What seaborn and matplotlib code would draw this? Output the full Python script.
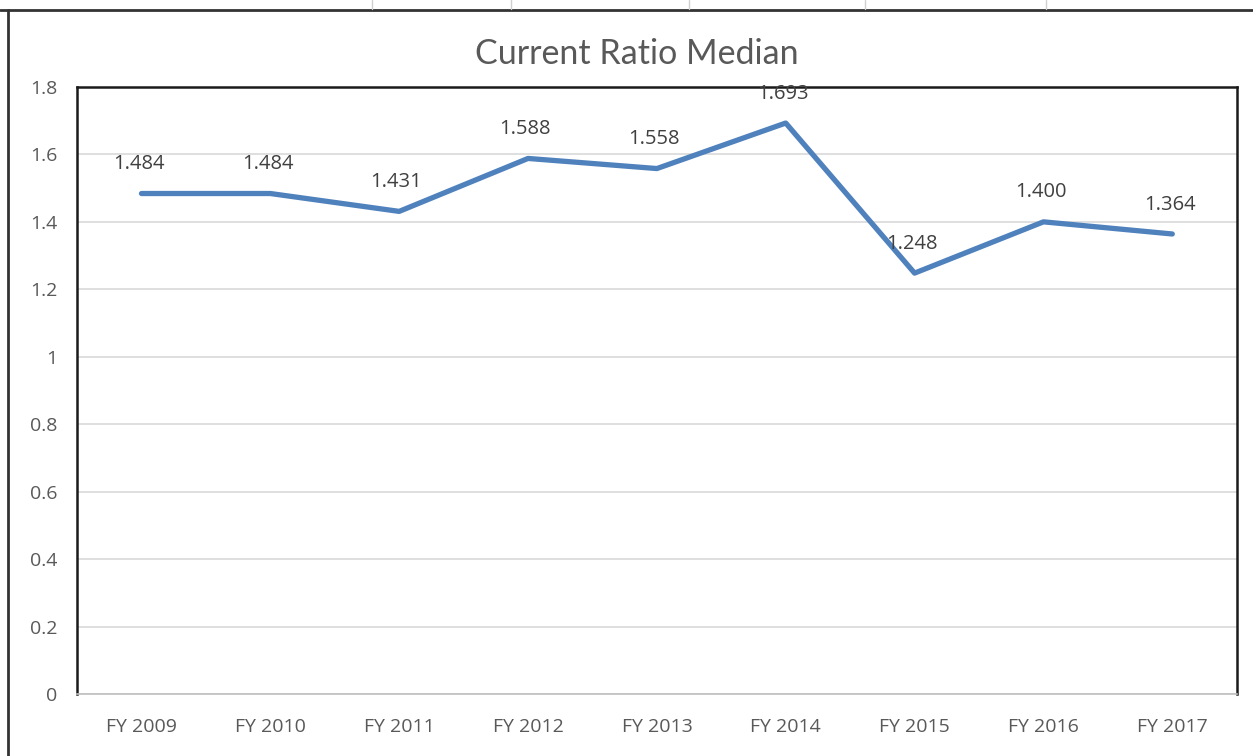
import matplotlib.pyplot as plt
import seaborn as sns
import pandas as pd
from matplotlib.lines import Line2D

# Datos del grafico
anios = ['FY 2009', 'FY 2010', 'FY 2011', 'FY 2012', 'FY 2013',
         'FY 2014', 'FY 2015', 'FY 2016', 'FY 2017']
ratio = [1.484, 1.484, 1.431, 1.588, 1.558, 1.693, 1.248, 1.400, 1.364]
ticks_y = [0, 0.2, 0.4, 0.6, 0.8, 1, 1.2, 1.4, 1.6, 1.8]
etiquetas_y = ['0', '0.2', '0.4', '0.6', '0.8', '1', '1.2', '1.4', '1.6', '1.8']

datos = pd.DataFrame({'anio': anios, 'ratio': ratio})

sns.set_style('white')
plt.rcParams['font.family'] = ['Open Sans', 'DejaVu Sans']

fig = plt.figure(figsize=(12.53, 7.56), dpi=100)
ax = fig.add_axes([0.0615, 0.082, 0.9255, 0.803])

sns.lineplot(data=datos, x='anio', y='ratio', sort=False, ax=ax,
             color='#4F81BD', linewidth=3.8, solid_capstyle='round')

# etiquetas de datos
for i, v in enumerate(ratio):
    ax.annotate(f'{v:.3f}', (i, v), xytext=(-2, 14), textcoords='offset points',
                ha='center', va='bottom', fontsize=14.5, color='#404040')

ax.set_xlim(-0.5, len(anios) - 0.5)
ax.set_ylim(0, 1.8)
ax.set_yticks(ticks_y)
ax.set_yticklabels(etiquetas_y)
ax.yaxis.grid(True, color='#d9d9d9', linewidth=1.2)
ax.set_xlabel('')
ax.set_ylabel('')
ax.tick_params(axis='both', length=0, labelsize=14, labelcolor='#595959')
ax.tick_params(axis='x', pad=17)
ax.tick_params(axis='y', pad=14)

for lado in ['top', 'left', 'right']:
    ax.spines[lado].set_color('#1a1a1a')
    ax.spines[lado].set_linewidth(1.8)
ax.spines['bottom'].set_color('#bfbfbf')
ax.spines['bottom'].set_linewidth(1.2)

fig.text(0.508, 0.928, 'Current Ratio Median', ha='center', va='center',
         fontsize=24.5, color='#595959', family=['Lato', 'DejaVu Sans'])

# marco de la hoja de calculo
fig.add_artist(Line2D([0, 1], [0.987, 0.987], color='#333333', linewidth=2,
                      transform=fig.transFigure))
fig.add_artist(Line2D([0.0065, 0.0065], [0, 0.987], color='#333333', linewidth=2,
                      transform=fig.transFigure))
for xv in [0.297, 0.408, 0.55, 0.69, 0.835]:
    fig.add_artist(Line2D([xv, xv], [0.988, 1], color='#d0d0d0', linewidth=1,
                          transform=fig.transFigure))

fig.savefig('out.png', dpi=100)
